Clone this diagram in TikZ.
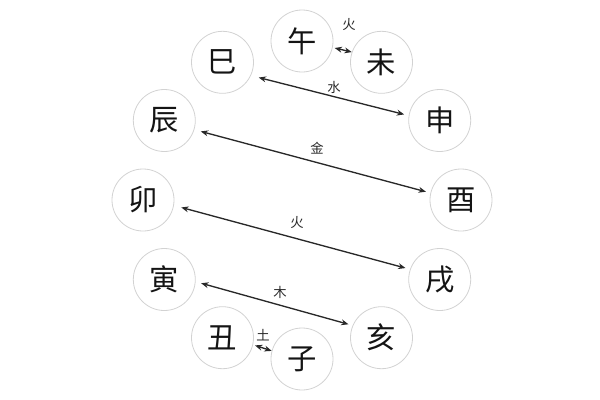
\documentclass[tikz,border=0pt]{standalone}
\usepackage{fontspec}
\newfontfamily\cjk{Noto Sans CJK SC}
\usetikzlibrary{arrows.meta}
\definecolor{ringgray}{RGB}{210,210,210}
\definecolor{arrowgray}{RGB}{40,40,40}
\definecolor{textgray}{RGB}{20,20,20}
\tikzset{every picture/.style={line width=0.75pt}}
\tikzset{
  branch/.style={circle, draw=ringgray, line width=0.6pt, minimum size=46.5pt, inner sep=0pt,
    text=textgray, font=\cjk\fontsize{22}{22}\selectfont},
  elem/.style={inner sep=0pt, text=arrowgray, font=\cjk\fontsize{10}{10}\selectfont},
  pair/.style={draw=arrowgray, line width=1pt, {Stealth[length=5.5pt,width=4.4pt]}-{Stealth[length=5.5pt,width=4.4pt]},
    shorten <=5pt, shorten >=3.5pt},
  shortpair/.style={pair, shorten <=1.5pt, shorten >=0pt}
}

\begin{document}
\begin{tikzpicture}[x=0.75pt,y=0.75pt,yscale=-1,xscale=1]
\useasboundingbox (0,0) rectangle (600,400);

% Branches
\node[branch] (wu)   at (302,41)    {午};
\node[branch] (wei)  at (381.5,62.3) {未};
\node[branch] (shen) at (439.7,120.5) {申};
\node[branch] (you)  at (461,200)   {酉};
\node[branch] (xu)   at (439.7,279.5) {戌};
\node[branch] (hai)  at (381.5,337.7) {亥};
\node[branch] (zi)   at (302,359)   {子};
\node[branch] (chou) at (222.5,337.7) {丑};
\node[branch] (yin)  at (164.3,279.5) {寅};
\node[branch] (mao)  at (143,200)   {卯};
\node[branch] (chen) at (164.3,120.5) {辰};
\node[branch] (si)   at (222.5,62.3) {巳};

% Pairs
\draw[shortpair] (wu.-12) -- (wei.161);
\draw[pair, shorten <=6pt] (si.-25) -- (shen.171);
\draw[pair] (chen.-17) -- (you.167);
\draw[pair, shorten <=5.7pt] (mao.-10) -- (xu.161);
\draw[pair, shorten <=4.3pt, shorten >=3.2pt] (yin.-4) -- (hai.157);
\draw[shortpair] (chou.-13) -- (zi.165);

% Labels
\node[elem] (lhuoa) at (349,25)  {火};
\node[elem] (lshui) at (334,87)  {水};
\node[elem] (ljin)  at (317,148) {金};
\node[elem] (lhuob) at (297,223) {火};
\node[elem] (lmu)   at (280,292) {木};
\node[elem] (ltu)   at (263,335) {土};

\end{tikzpicture}
\end{document}
